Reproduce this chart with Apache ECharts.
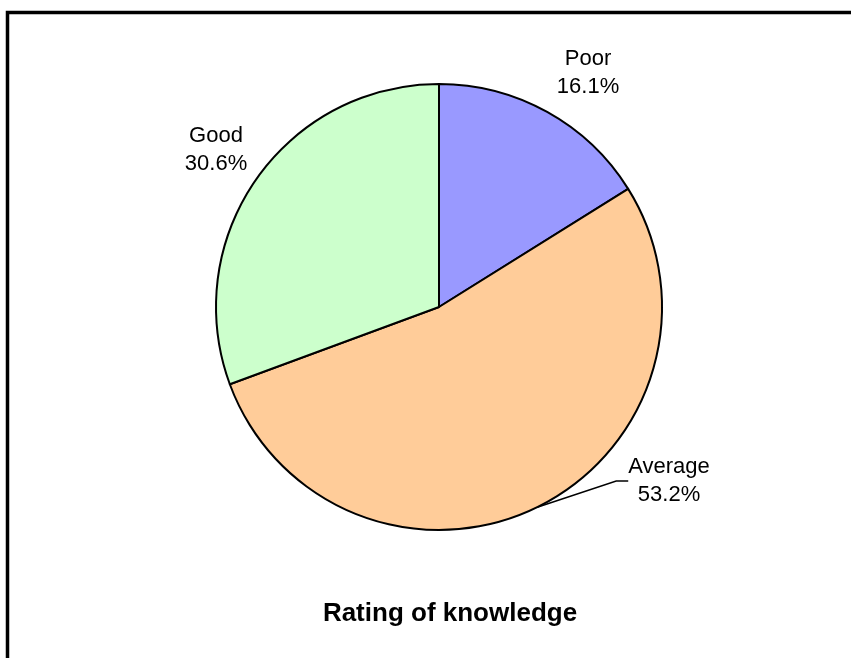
<!DOCTYPE html>
<html>
<head>
<meta charset="utf-8">
<script src="https://cdn.jsdelivr.net/npm/echarts@6/dist/echarts.min.js"></script>
<style>
  html, body { margin: 0; padding: 0; background: #fff; }
  #main { width: 851px; height: 658px; }
</style>
</head>
<body>
<div id="main"></div>
<script>
// 数据
var categories = ['Poor', 'Average', 'Good'];
var values = [16.1, 53.2, 30.6];
var colors = ['#9999FF', '#FFCC99', '#CCFFCC'];
var title = 'Rating of knowledge';

// label anchor positions (px) for each slice
var labelPos = [[588, 73], [669, 481], [216, 150]];

var myChart = echarts.init(document.getElementById('main'));

var pieData = categories.map(function (name, i) {
    return {
        name: name,
        value: values[i],
        itemStyle: { color: colors[i] },
        labelLine: { show: name == 'Average' }
    };
});

var option = {
    backgroundColor: '#fff',
    animation: false,
    title: {
        text: title,
        left: 445,
        top: 596,
        textAlign: 'center',
        textStyle: {
            fontFamily: 'Liberation Sans, Arial, sans-serif',
            fontSize: 26,
            fontWeight: 'bold',
            color: '#000'
        }
    },
    graphic: [
        {
            type: 'rect',
            shape: { x: 7.5, y: 12.5, width: 900, height: 700 },
            style: { fill: 'none', stroke: '#000', lineWidth: 3.5 },
            silent: true
        }
    ],
    series: [
        {
            type: 'pie',
            center: [439, 307],
            radius: 223,
            startAngle: 90,
            clockwise: true,
            data: pieData,
            itemStyle: { borderColor: '#000', borderWidth: 2 },
            label: {
                show: true,
                position: 'outside',
                formatter: '{b}\n{c}%',
                fontFamily: 'Liberation Sans, Arial, sans-serif',
                fontSize: 22,
                lineHeight: 28,
                color: '#000',
                align: 'center'
            },
            labelLine: {
                show: true,
                length: 10,
                length2: 12,
                lineStyle: { color: '#000', width: 1.5 }
            },
            labelLayout: function (params) {
                var p = labelPos[params.dataIndex];
                return { x: p[0], y: p[1], align: 'center', verticalAlign: 'middle' };
            },
            emphasis: { disabled: true }
        }
    ]
};
myChart.setOption(option);
</script>
</body>
</html>
